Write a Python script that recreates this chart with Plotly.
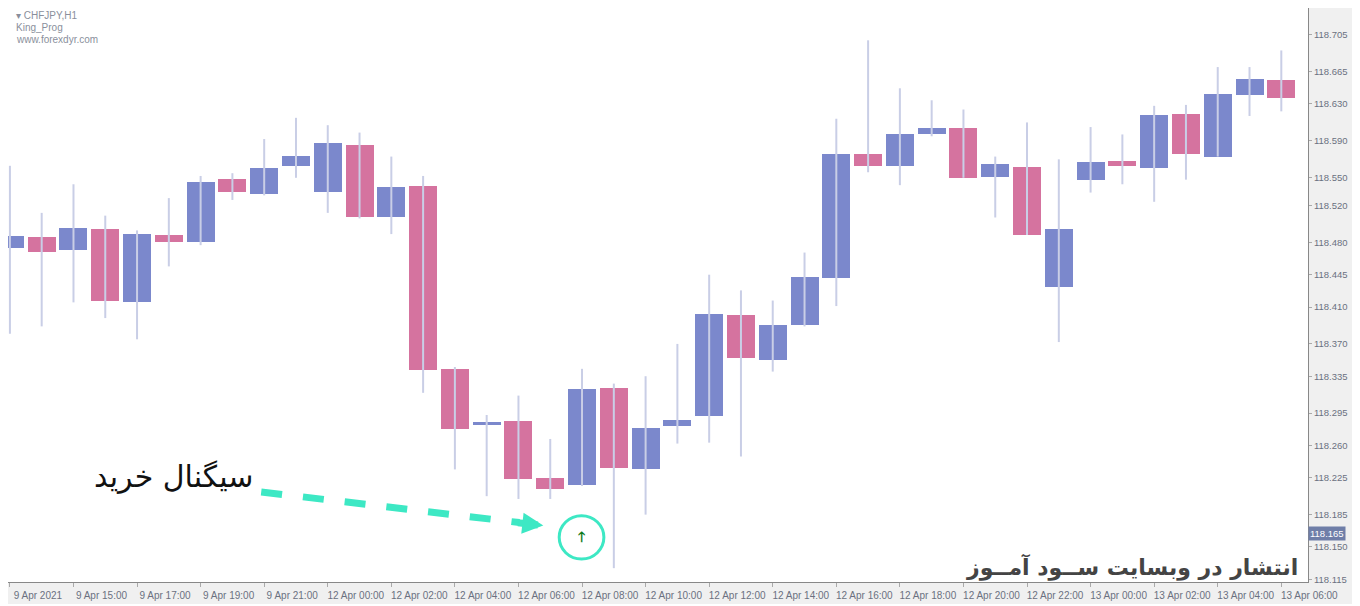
import plotly.graph_objects as go

# CHFJPY H1 candles
labels_tick = ["9 Apr 2021", "9 Apr 15:00", "9 Apr 17:00", "9 Apr 19:00", "9 Apr 21:00",
               "12 Apr 00:00", "12 Apr 02:00", "12 Apr 04:00", "12 Apr 06:00", "12 Apr 08:00",
               "12 Apr 10:00", "12 Apr 12:00", "12 Apr 14:00", "12 Apr 16:00", "12 Apr 18:00",
               "12 Apr 20:00", "12 Apr 22:00", "13 Apr 00:00", "13 Apr 02:00", "13 Apr 04:00",
               "13 Apr 06:00"]
tick_pos = [0, 2, 4, 6, 8, 10, 12, 14, 16, 18, 20, 22, 24, 26, 28, 30, 32, 34, 36, 38, 40]

opens = [118.474, 118.486, 118.472, 118.495, 118.415, 118.488, 118.480, 118.549, 118.532, 118.563,
         118.535, 118.586, 118.507, 118.541, 118.343, 118.283, 118.286, 118.225, 118.217, 118.322,
         118.234, 118.281, 118.292, 118.401, 118.353, 118.390, 118.441, 118.576, 118.563, 118.597,
         118.604, 118.551, 118.562, 118.432, 118.548, 118.568, 118.561, 118.619, 118.573, 118.640,
         118.656]
closes = [118.487, 118.470, 118.496, 118.417, 118.489, 118.480, 118.545, 118.535, 118.561, 118.574,
          118.588, 118.507, 118.540, 118.342, 118.278, 118.285, 118.224, 118.213, 118.321, 118.235,
          118.279, 118.288, 118.402, 118.355, 118.390, 118.442, 118.576, 118.563, 118.598, 118.604,
          118.550, 118.565, 118.488, 118.494, 118.567, 118.563, 118.618, 118.576, 118.641, 118.657,
          118.637]
highs = [118.563, 118.512, 118.543, 118.509, 118.493, 118.528, 118.552, 118.555, 118.592, 118.615,
         118.607, 118.599, 118.573, 118.552, 118.345, 118.293, 118.314, 118.267, 118.343, 118.327,
         118.335, 118.370, 118.445, 118.428, 118.417, 118.469, 118.614, 118.699, 118.647, 118.634,
         118.624, 118.573, 118.610, 118.570, 118.605, 118.597, 118.628, 118.629, 118.670, 118.670,
         118.688]
lows = [118.381, 118.389, 118.415, 118.398, 118.375, 118.454, 118.477, 118.526, 118.531, 118.550,
        118.512, 118.506, 118.489, 118.317, 118.234, 118.205, 118.202, 118.202, 118.216, 118.127,
        118.185, 118.262, 118.263, 118.248, 118.340, 118.389, 118.411, 118.556, 118.542, 118.595,
        118.550, 118.507, 118.488, 118.372, 118.534, 118.543, 118.524, 118.548, 118.573, 118.617,
        118.622]
price_ticks = [118.705, 118.665, 118.630, 118.590, 118.550, 118.520, 118.480, 118.445, 118.410,
               118.370, 118.335, 118.295, 118.260, 118.225, 118.185, 118.150, 118.115]
last_price = 118.165

BULL = "#7b88cc"
BEAR = "#d5739f"
WICK = "#c9cee6"

idx = list(range(len(opens)))

# wicks
wx, wy = [], []
for i in idx:
    wx += [i, i, None]
    wy += [lows[i], highs[i], None]

fig = go.Figure()
fig.add_trace(go.Scatter(x=wx, y=wy, mode="lines", line=dict(color=WICK, width=2),
                         hoverinfo="skip", showlegend=False))

# bodies
base = [min(o, c) for o, c in zip(opens, closes)]
height = [max(abs(c - o), 0.0015) for o, c in zip(opens, closes)]
colors = [BULL if c >= o else BEAR for o, c in zip(opens, closes)]
fig.add_trace(go.Bar(x=idx, y=height, base=base, width=0.88, marker=dict(color=colors, line_width=0),
                     showlegend=False))

# pixel -> data helpers for decorations
def px(x):
    return (x - 5) / 32.0

def py(y):
    return 118.705 - (y - 27) * 0.00107

teal = "#3de8c4"
fig.add_shape(type="line", x0=px(258), y0=py(490), x1=px(518), y1=py(521),
              line=dict(color=teal, width=7, dash="dash"))
fig.add_annotation(x=px(542), y=py(524), ax=px(515), ay=py(521), axref="x", ayref="y",
                   xref="x", yref="y", text="", showarrow=True, arrowhead=2, arrowsize=0.6,
                   arrowwidth=7, arrowcolor=teal)
fig.add_shape(type="circle", x0=px(558), y0=py(514), x1=px(603), y1=py(558),
              line=dict(color=teal, width=3))
fig.add_annotation(x=px(580), y=py(536), text="<b>🡑</b>", showarrow=False,
                   font=dict(color="#0f7a1a", size=14, family="DejaVu Sans"))

fig.add_annotation(x=px(170), y=py(474), text="سیگنال خرید", showarrow=False,
                   font=dict(family="DejaVu Serif, DejaVu Sans", size=30, color="#111111"))
fig.add_annotation(x=1, xref="paper", xanchor="right", xshift=-8, y=py(566), text="<b>انتشار در وبسایت ســود آمــوز</b>",
                   showarrow=False, font=dict(family="DejaVu Sans", size=22, color="#444444"))

for i, t in enumerate(["▾ CHFJPY,H1", "King_Prog", "www.forexdyr.com"]):
    fig.add_annotation(x=0, y=1, xref="paper", yref="paper", xanchor="left", yanchor="top",
                       xshift=6, yshift=-i * 12, text=t, showarrow=False,
                       font=dict(size=10, color="#8a8f9c", family="Liberation Sans"))

fig.add_annotation(x=1, xref="paper", xanchor="left", y=last_price, yref="y", text=f"{last_price:.3f}",
                   showarrow=False, bgcolor="#6f7ea8", font=dict(size=9.5, color="white", family="Liberation Sans"),
                   borderpad=1)

fig.update_layout(
    width=1344, height=596,
    margin=dict(l=0, r=44, t=0, b=22, autoexpand=False),
    paper_bgcolor="#f0f0f0", plot_bgcolor="white",
    bargap=0, showlegend=False,
    xaxis=dict(range=[-0.06, 40.84], tickvals=tick_pos, ticktext=labels_tick, showgrid=False,
               zeroline=False, showline=True, linecolor="#888888", mirror=True, ticks="outside",
               ticklen=4, tickcolor="#aaaaaa", ticklabelshift=28, ticklabeloverflow="allow",
               tickfont=dict(size=10, color="#6b7080", family="Liberation Sans")),
    yaxis=dict(range=[118.112, 118.734], side="right", tickvals=price_ticks, tickformat=".3f",
               showgrid=False, zeroline=False, showline=True, linecolor="#888888", mirror=True,
               ticks="outside", ticklen=3, tickcolor="#aaaaaa", ticklabeloverflow="allow",
               tickfont=dict(size=9.5, color="#6b7080", family="Liberation Sans")),
)

fig.write_html("out.html")
